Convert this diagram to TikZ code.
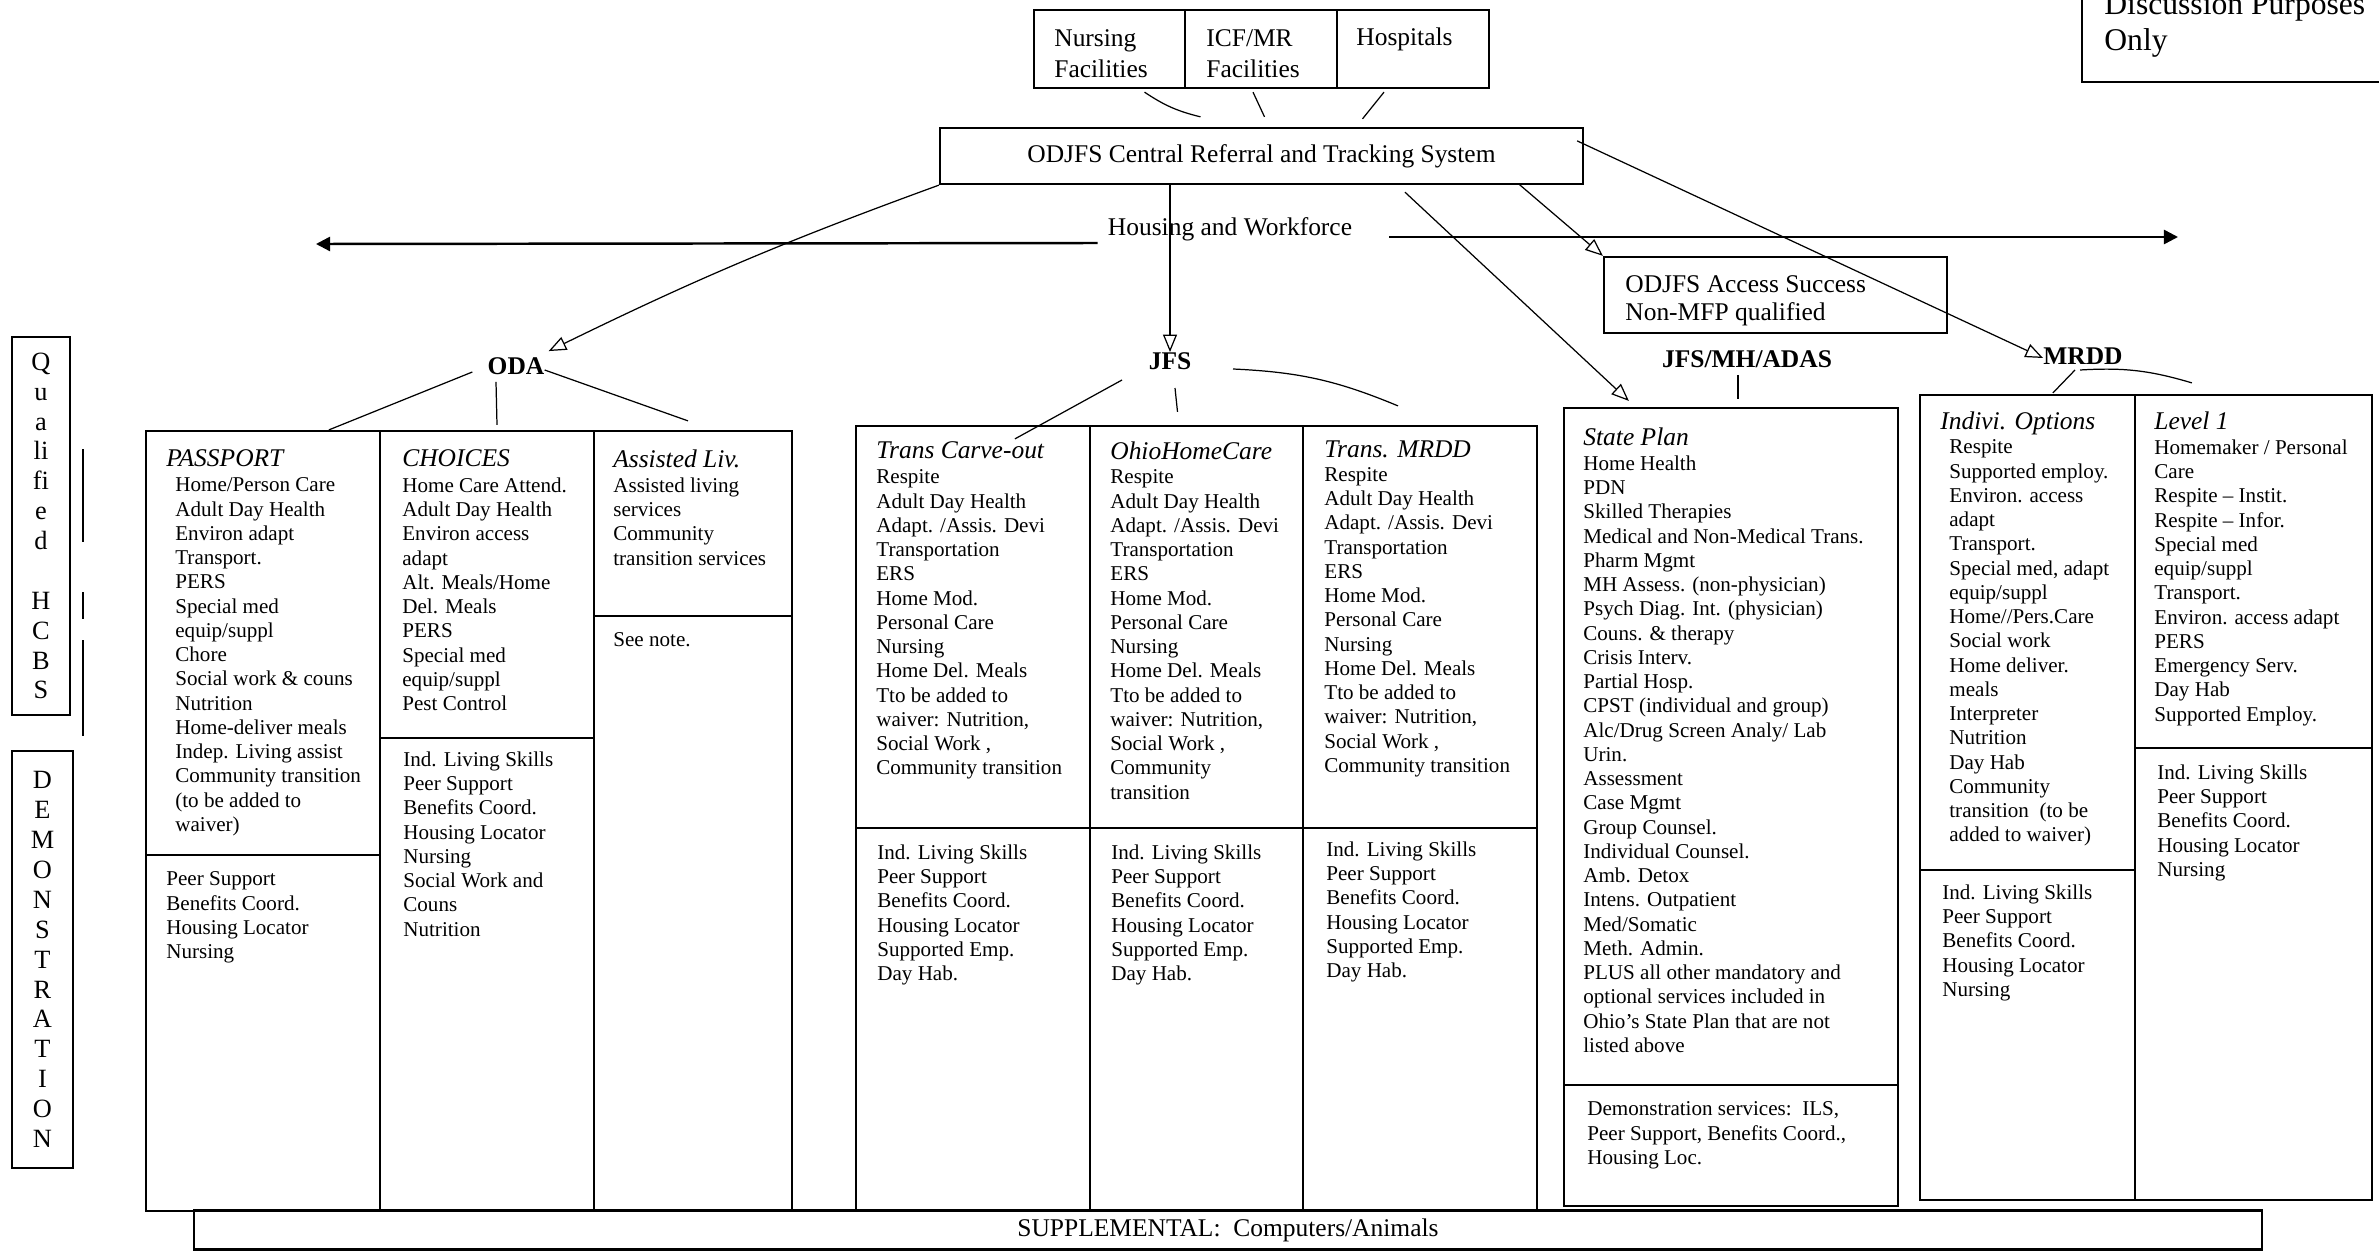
\documentclass[tikz,border=0pt]{standalone}
\usepackage{fontspec}
\setmainfont{Liberation Serif}
\usetikzlibrary{arrows.meta,calc}

\tikzset{
  cell/.style={draw,line width=1.3pt,inner sep=0pt},
  items/.style={anchor=north west,align=left,inner sep=0pt,font=\fontsize{12}{13.8}\selectfont},
  colhead/.style={anchor=north west,inner sep=0pt,font=\fontsize{14.5}{16}\selectfont\itshape},
  agency/.style={inner sep=0pt,font=\fontsize{14.5}{16}\selectfont\bfseries},
  big/.style={inner sep=0pt,font=\fontsize{14.5}{17.6}\selectfont},
  link/.style={line width=0.7pt},
  feed/.style={line width=0.7pt,-{Triangle[open,length=10pt,width=8pt]}},
  wide/.style={line width=1.4pt,-{Triangle[length=8pt,width=8pt]}},
}

\begin{document}
\begin{tikzpicture}[x=0.02cm,y=-0.02cm]
\useasboundingbox (0,0) rectangle (2379,1257);
\clip (0,0) rectangle (2379,1257);

% sources and referral
\node (nf) at (1109.5,49) [cell,minimum width=3.02cm,minimum height=1.56cm] {};
\node (icf) at (1261,49) [cell,minimum width=3.04cm,minimum height=1.56cm] {};
\node (hosp) at (1413,49) [cell,minimum width=3.04cm,minimum height=1.56cm] {};
\node (nfT) at (1054,29) [big,anchor=north west,align=left] {Nursing\\Facilities};
\node (icfT) at (1206,29) [big,anchor=north west,align=left] {ICF/MR\\Facilities};
\node (hospT) at (1356,27) [big,anchor=north west] {Hospitals};
\node (disc) at (2261,11) [cell,minimum width=7.16cm,minimum height=2.84cm] {};
\node (discT) at (2104,-7) [anchor=north west,align=left,inner sep=0pt,font=\fontsize{18}{20.4}\selectfont] {Discussion Purposes\\Only};
\node (ref) at (1261.5,156) [cell,big,minimum width=12.86cm,minimum height=1.12cm] {ODJFS Central Referral and Tracking System};
\node (hw) at (1230,229) [big] {Housing and Workforce};
\coordinate (hwl) at (316,244);
\coordinate (hwr) at (2178,237);
\node (acc) at (1775.5,295) [cell,minimum width=6.86cm,minimum height=1.52cm] {};
\node (accT) at (1625,275) [big,anchor=north west,align=left,font=\fontsize{14.5}{15.9}\selectfont] {ODJFS Access Success\\Non-MFP qualified};

% agencies
\node (oda) at (516,366) [agency] {ODA};
\node (jfs) at (1170,361) [agency] {JFS};
\node (jmha) at (1747,359) [agency] {JFS/MH/ADAS};
\node (mrdd) at (2083,356) [agency] {MRDD};

% side labels
\node (qual) at (41,526) [cell,minimum width=1.16cm,minimum height=7.56cm,align=center,font=\fontsize{15}{17}\selectfont] {Q\\u\\a\\li\\fi\\e\\d\\[17pt]H\\C\\B\\S};
\node (demo) at (42.5,959.5) [cell,minimum width=1.22cm,minimum height=8.34cm,align=center,font=\fontsize{15}{17}\selectfont] {D\\E\\M\\O\\N\\S\\T\\R\\A\\T\\I\\O\\N};
\draw [line width=1pt] (83,449) -- (83,542);
\draw [line width=1pt] (83,592) -- (83,619);
\draw [line width=1pt] (83,640) -- (83,736);

% ODA waivers
\node (ptop) at (263,643) [cell,minimum width=4.68cm,minimum height=8.48cm] {};
\node (pbot) at (263,1033) [cell,minimum width=4.68cm,minimum height=7.12cm] {};
\node (ctop) at (487,584.5) [cell,minimum width=4.28cm,minimum height=6.14cm] {};
\node (cbot) at (487,974.5) [cell,minimum width=4.28cm,minimum height=9.46cm] {};
\node (atop) at (693,523.5) [cell,minimum width=3.96cm,minimum height=3.7cm] {};
\node (abot) at (693,913.5) [cell,minimum width=3.96cm,minimum height=11.9cm] {};

\node (ptopH) at (166,449) [colhead] {PASSPORT};
\node (ptopL) at (175,477.5) [items] {Home/Person Care\\Adult Day Health\\Environ adapt\\Transport.\\PERS\\Special med\\equip/suppl\\Chore\\Social work \& couns\\Nutrition\\Home-deliver meals\\Indep. Living assist\\Community transition\\(to be added to\\waiver)};
\node (pbotL) at (166,871.5) [items] {Peer Support\\Benefits Coord.\\Housing Locator\\Nursing};
\node (ctopH) at (402,449) [colhead] {CHOICES};
\node (ctopL) at (402,477.5) [items] {Home Care Attend.\\Adult Day Health\\Environ access\\adapt\\Alt. Meals/Home\\Del. Meals\\PERS\\Special med\\equip/suppl\\Pest Control};
\node (cbotL) at (403,751.5) [items] {Ind. Living Skills\\Peer Support\\Benefits Coord.\\Housing Locator\\Nursing\\Social Work and\\Couns\\Nutrition};
\node (atopH) at (613,449) [colhead] {Assisted Liv.};
\node (atopL) at (613,477.5) [items] {Assisted living\\services\\Community\\transition services};
\node (abotL) at (613,632.5) [items] {See note.};

% JFS waivers
\node (ttop) at (973,627) [cell,minimum width=4.68cm,minimum height=8.04cm] {};
\node (tbot) at (973,1019) [cell,minimum width=4.68cm,minimum height=7.64cm] {};
\node (otop) at (1196.5,627) [cell,minimum width=4.26cm,minimum height=8.04cm] {};
\node (obot) at (1196.5,1019) [cell,minimum width=4.26cm,minimum height=7.64cm] {};
\node (mtop) at (1420,627) [cell,minimum width=4.68cm,minimum height=8.04cm] {};
\node (mbot) at (1420,1019) [cell,minimum width=4.68cm,minimum height=7.64cm] {};

\node (ttopH) at (876,441) [colhead] {Trans Carve-out};
\node (ttopL) at (876,469.5) [items] {Respite\\Adult Day Health\\Adapt. /Assis. Devi\\Transportation\\ERS\\Home Mod.\\Personal Care\\Nursing\\Home Del. Meals\\Tto be added to\\waiver: Nutrition,\\Social Work ,\\Community transition};
\node (tbotL) at (877,844.5) [items] {Ind. Living Skills\\Peer Support\\Benefits Coord.\\Housing Locator\\Supported Emp.\\Day Hab.};
\node (otopH) at (1110,441) [colhead] {OhioHomeCare};
\node (otopL) at (1110,469.5) [items] {Respite\\Adult Day Health\\Adapt. /Assis. Devi\\Transportation\\ERS\\Home Mod.\\Personal Care\\Nursing\\Home Del. Meals\\Tto be added to\\waiver: Nutrition,\\Social Work ,\\Community\\transition};
\node (obotL) at (1111,844.5) [items] {Ind. Living Skills\\Peer Support\\Benefits Coord.\\Housing Locator\\Supported Emp.\\Day Hab.};
\node (mtopH) at (1324,440) [colhead] {Trans. MRDD};
\node (mtopL) at (1324,467) [items] {Respite\\Adult Day Health\\Adapt. /Assis. Devi\\Transportation\\ERS\\Home Mod.\\Personal Care\\Nursing\\Home Del. Meals\\Tto be added to\\waiver: Nutrition,\\Social Work ,\\Community transition};
\node (mbotL) at (1326,841.5) [items] {Ind. Living Skills\\Peer Support\\Benefits Coord.\\Housing Locator\\Supported Emp.\\Day Hab.};

% state plan
\node (sptop) at (1731,746.5) [cell,minimum width=6.68cm,minimum height=13.54cm] {};
\node (spbot) at (1731,1145.5) [cell,minimum width=6.68cm,minimum height=2.42cm] {};
\node (sptopH) at (1583,427) [colhead] {State Plan};
\node (sptopL) at (1583,455.5) [items] {Home Health\\PDN\\Skilled Therapies\\Medical and Non-Medical Trans.\\Pharm Mgmt\\MH Assess. (non-physician)\\Psych Diag. Int. (physician)\\Couns. \& therapy\\Crisis Interv.\\Partial Hosp.\\CPST (individual and group)\\Alc/Drug Screen Analy/ Lab\\Urin.\\Assessment\\Case Mgmt\\Group Counsel.\\Individual Counsel.\\Amb. Detox\\Intens. Outpatient\\Med/Somatic\\Meth. Admin.\\PLUS all other mandatory and\\optional services included in\\Ohio's State Plan that are not\\listed above};
\node (spbotL) at (1587,1101.5) [items] {Demonstration services:\ \ ILS,\\Peer Support, Benefits Coord.,\\Housing Loc.};

% MRDD waivers
\node (iotop) at (2027.5,632.5) [cell,minimum width=4.3cm,minimum height=9.5cm] {};
\node (iobot) at (2027.5,1035) [cell,minimum width=4.3cm,minimum height=6.6cm] {};
\node (l1top) at (2253.5,571.5) [cell,minimum width=4.74cm,minimum height=7.06cm] {};
\node (l1bot) at (2253.5,974) [cell,minimum width=4.74cm,minimum height=9.04cm] {};
\node (iotopH) at (1940,411) [colhead] {Indivi. Options};
\node (iotopL) at (1949,439.5) [items] {Respite\\Supported employ.\\Environ. access\\adapt\\Transport.\\Special med, adapt\\equip/suppl\\Home//Pers.Care\\Social work\\Home deliver.\\meals\\Interpreter\\Nutrition\\Day Hab\\Community\\transition\ \ (to be\\added to waiver)};
\node (iobotL) at (1942,884.5) [items] {Ind. Living Skills\\Peer Support\\Benefits Coord.\\Housing Locator\\Nursing};
\node (l1topH) at (2154,411) [colhead] {Level 1};
\node (l1topL) at (2154,439.5) [items] {Homemaker / Personal\\Care\\Respite -- Instit.\\Respite -- Infor.\\Special med\\equip/suppl\\Transport.\\Environ. access adapt\\PERS\\Emergency Serv.\\Day Hab\\Supported Employ.};
\node (l1botL) at (2157,764.5) [items] {Ind. Living Skills\\Peer Support\\Benefits Coord.\\Housing Locator\\Nursing};

\node (sup) at (1228,1230) [cell,big,minimum width=41.36cm,minimum height=0.78cm] {SUPPLEMENTAL:\ \ Computers/Animals};

% connectors
\draw [link] ($(nf.south)+(35,3)$) to[bend right=10] ($(ref.north)+(-61,-10)$);
\draw [link] ($(icf.south)+(-8,3)$) -- ($(ref.north)+(3,-10)$);
\draw [link] ($(hosp.south)+(-29,3)$) -- ($(ref.north)+(101,-8)$);

\draw [wide] ($(hw.west)+(-10,14)$) -- (hwl);
\draw [wide] ($(hw.east)+(37,8)$) -- (hwr);

\draw [feed] (ref.south west) to[bend right=3] ($(oda.north east)+(4,-6)$);
\draw [feed] (ref.south -| jfs.north) -- (jfs.north);
\draw [feed] ($(ref.south west)+(466,7)$) -- ($(sptop.north west)+(66,-6)$);
\draw [feed] ($(ref.south west)+(580,-1)$) -- (acc.north west);
\draw [feed] ($(ref.north east)+(-7,14)$) -- ($(mrdd.west)+(0,2)$);

\draw [link] ($(oda.west)+(-15,6)$) -- ($(ptop.north west)+(184,0)$);
\draw [link] ($(oda.south)+(-20,7)$) -- ($(ctop.north)+(10,-5)$);
\draw [link] ($(oda.east)+(0,4)$) -- ($(atop.north)+(-5,-9)$);

\draw [link] ($(jfs)+(-48,19)$) -- ($(ttop.north west)+(160,14)$);
\draw [link] ($(jfs)+(5,27)$) -- ($(otop.north)+(-19,-13)$);
\draw [link] ($(jfs)+(63,8)$) to[bend left=10] ($(mtop.north)+(-22,-19)$);

\draw [link] ($(jmha.south)+(-9,7)$) -- ($(sptop.north)+(7,-8)$);

\draw [link] ($(mrdd)+(-8,14)$) -- ($(iotop.north west)+(134,-1)$);
\draw [link] ($(mrdd)+(-3,14)$) to[bend left=10] ($(l1top.north west)+(58,-11)$);

\end{tikzpicture}
\end{document}
